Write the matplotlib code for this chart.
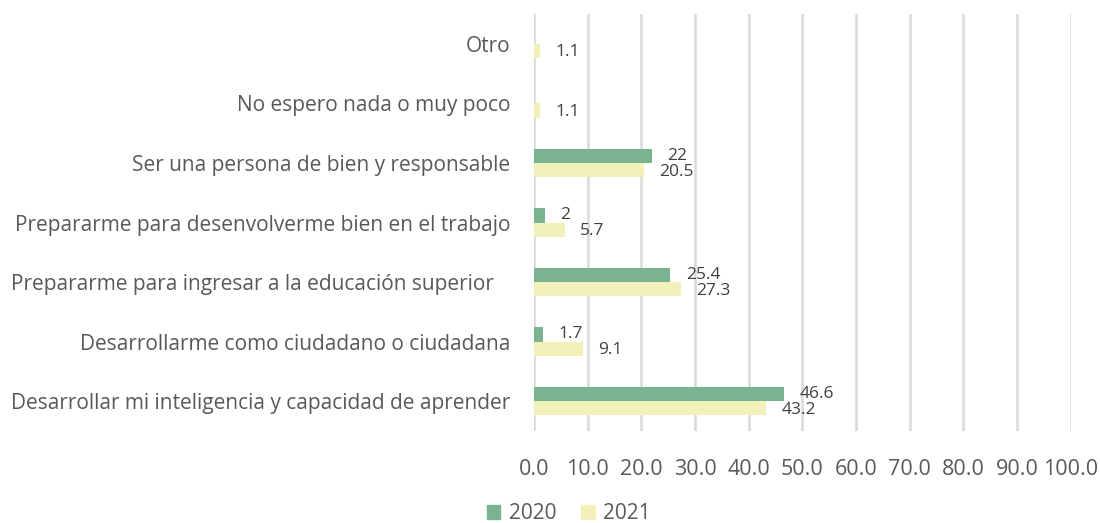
import matplotlib.pyplot as plt
import numpy as np

# categorias (de abajo hacia arriba, como en el grafico)
categories = [
    "Desarrollar mi inteligencia y capacidad de aprender",
    "Desarrollarme como ciudadano o ciudadana",
    "Prepararme para ingresar a la educación superior   ",
    "Prepararme para desenvolverme bien en el trabajo",
    "Ser una persona de bien y responsable",
    "No espero nada o muy poco",
    "Otro",
]
values_2020 = [46.6, 1.7, 25.4, 2, 22, None, None]
values_2021 = [43.2, 9.1, 27.3, 5.7, 20.5, 1.1, 1.1]
x_ticks = [0, 10, 20, 30, 40, 50, 60, 70, 80, 90, 100]

c2020 = '#7AB38F'
c2021 = '#F3F1BA'
txt = '#595959'

plt.rcParams['font.family'] = ['Open Sans', 'DejaVu Sans']

fig = plt.figure(figsize=(11, 5.23), dpi=100)
ax = fig.add_axes([0.4855, 0.176, 0.488, 0.797])

y = np.arange(len(categories))
h = 0.24
for i in range(len(categories)):
    v = values_2020[i]
    if v is not None:
        ax.barh(y[i] + h / 2, v, height=h, color=c2020, zorder=3)
        ax.annotate('%g' % v, (v, y[i] + h / 2), xytext=(11, 0), textcoords='offset points',
                    ha='left', va='center', fontsize=12.5, color='#404040')
    v = values_2021[i]
    ax.barh(y[i] - h / 2, v, height=h, color=c2021, zorder=3)
    ax.annotate('%g' % v, (v, y[i] - h / 2), xytext=(11, -1), textcoords='offset points',
                ha='left', va='center', fontsize=12.5, color='#404040')

ax.set_xlim(0, 100)
ax.set_ylim(-0.5, len(categories) - 0.5)
ax.set_xticks(x_ticks)
ax.set_xticklabels(['%.1f' % t for t in x_ticks])
ax.set_yticks(y)
ax.set_yticklabels(categories)
ax.tick_params(axis='x', length=0, pad=20, labelsize=15.5, colors=txt)
ax.tick_params(axis='y', length=0, pad=17, labelsize=15, colors=txt)
ax.grid(axis='x', color='#D9D9D9', linewidth=1.8, zorder=0)
for s in ax.spines.values():
    s.set_visible(False)

handles = [plt.Rectangle((0, 0), 1, 1, color=c2020), plt.Rectangle((0, 0), 1, 1, color=c2021)]
leg = fig.legend(handles, ['2020', '2021'], loc='center', bbox_to_anchor=(0.517, 0.018),
                 ncol=2, frameon=False, fontsize=15, handlelength=0.65, handleheight=0.65,
                 handletextpad=0.4, columnspacing=1.2)
for t in leg.get_texts():
    t.set_color(txt)

fig.savefig('out.png', dpi=100)
